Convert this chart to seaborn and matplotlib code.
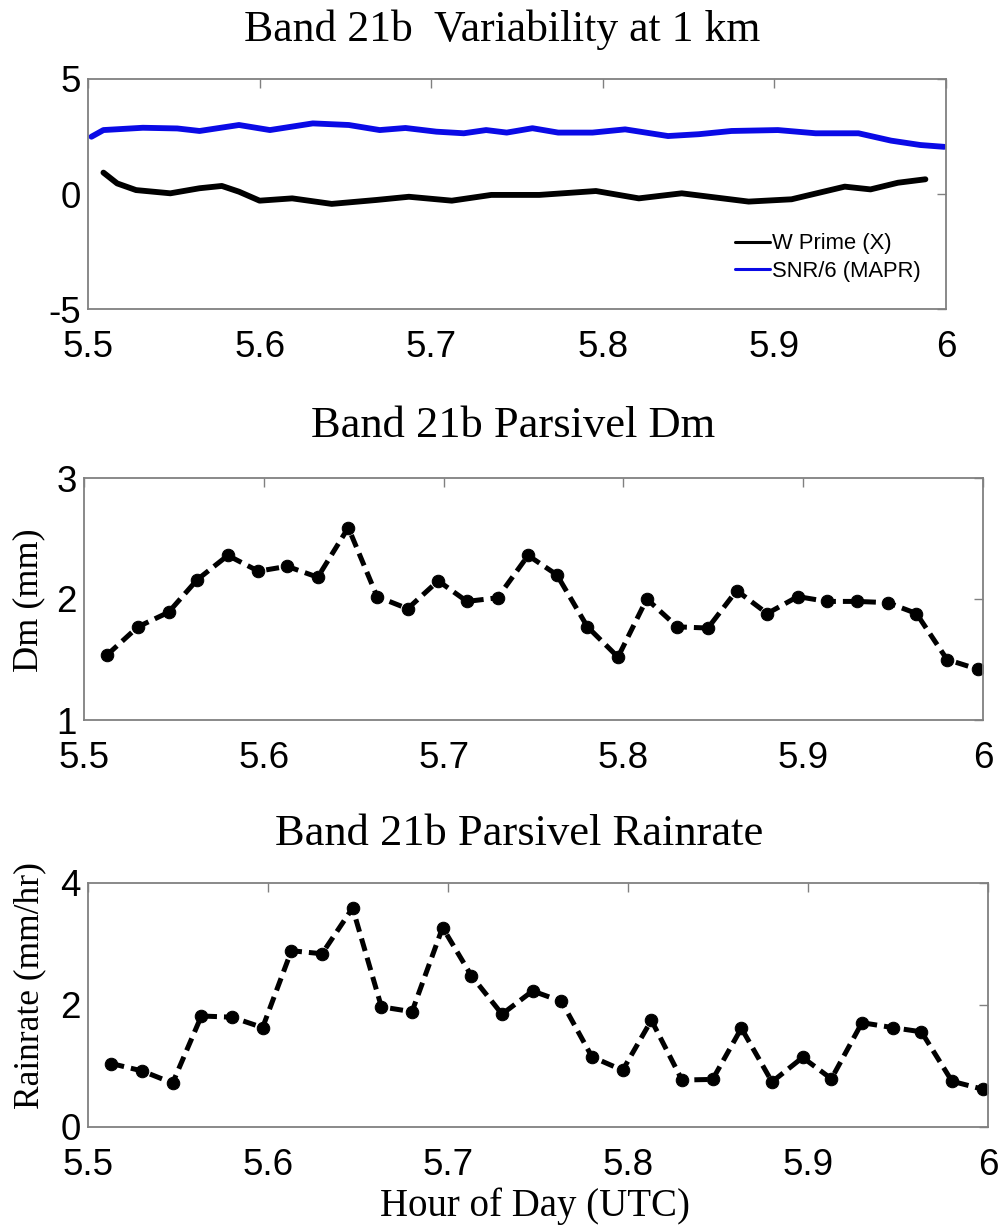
import numpy as np
import pandas as pd
import matplotlib
matplotlib.use("Agg")
import matplotlib.pyplot as plt
import seaborn as sns

# ---------------- data ----------------
# Panel 1: Variability at 1 km
w_hours = [5.509, 5.517, 5.528, 5.548, 5.565, 5.578, 5.588, 5.600, 5.619, 5.642,
           5.668, 5.687, 5.712, 5.735, 5.763, 5.796, 5.821, 5.846, 5.885, 5.910,
           5.941, 5.956, 5.972, 5.988]
w_prime = [0.93, 0.46, 0.17, 0.03, 0.25, 0.35, 0.10, -0.29, -0.19, -0.43,
           -0.26, -0.12, -0.29, -0.04, -0.04, 0.13, -0.19, 0.03, -0.33, -0.23,
           0.32, 0.20, 0.49, 0.64]
snr_hours = [5.502, 5.509, 5.532, 5.552, 5.565, 5.588, 5.606, 5.631, 5.652, 5.670,
             5.685, 5.703, 5.719, 5.732, 5.744, 5.759, 5.774, 5.794, 5.813, 5.838,
             5.856, 5.875, 5.902, 5.924, 5.949, 5.968, 5.985, 5.999]
snr6 = [2.49, 2.78, 2.88, 2.85, 2.74, 3.00, 2.78, 3.07, 3.00, 2.78,
        2.87, 2.71, 2.64, 2.78, 2.67, 2.86, 2.67, 2.67, 2.81, 2.52,
        2.60, 2.74, 2.78, 2.64, 2.64, 2.32, 2.13, 2.05]
series_names = ["W Prime (X)", "SNR/6 (MAPR)"]
series_colors = ["black", "#0a0ae6"]

# Panels 2 and 3: Parsivel (1-minute samples)
pars_hours = [5.513, 5.530, 5.547, 5.563, 5.580, 5.597, 5.613, 5.630, 5.647, 5.663,
              5.680, 5.697, 5.713, 5.730, 5.747, 5.763, 5.780, 5.797, 5.813, 5.830,
              5.847, 5.863, 5.880, 5.897, 5.913, 5.930, 5.947, 5.963, 5.980, 5.997]
dm_mm = [1.54, 1.77, 1.89, 2.16, 2.36, 2.23, 2.27, 2.18, 2.59, 2.02,
         1.92, 2.15, 1.98, 2.01, 2.36, 2.20, 1.77, 1.52, 2.00, 1.77,
         1.76, 2.07, 1.88, 2.02, 1.98, 1.98, 1.97, 1.88, 1.50, 1.42]
rain_mmhr = [1.04, 0.92, 0.72, 1.82, 1.80, 1.63, 2.89, 2.84, 3.59, 1.97,
             1.89, 3.27, 2.48, 1.85, 2.23, 2.06, 1.15, 0.93, 1.75, 0.77,
             0.78, 1.62, 0.74, 1.14, 0.79, 1.71, 1.63, 1.56, 0.75, 0.62]

x_ticks = [5.5, 5.6, 5.7, 5.8, 5.9, 6.0]
x_ticklabels = ["5.5", "5.6", "5.7", "5.8", "5.9", "6"]
titles = ["Band 21b  Variability at 1 km", "Band 21b Parsivel Dm",
          "Band 21b Parsivel Rainrate"]
ylabels = ["", "Dm (mm)", "Rainrate (mm/hr)"]
xlabel = "Hour of Day (UTC)"

# ---------------- style ----------------
sns.set_style("white")
plt.rcParams["font.family"] = ["Liberation Sans", "DejaVu Sans"]
plt.rcParams["axes.unicode_minus"] = False
plt.rcParams["text.color"] = "black"
plt.rcParams["xtick.color"] = "black"
plt.rcParams["ytick.color"] = "black"
SERIF = ["Liberation Serif", "DejaVu Serif"]

W, H = 999, 1226
fig = plt.figure(figsize=(W / 100, H / 100), dpi=100)


def add_ax(l, r, t, b):
    return fig.add_axes([l / W, 1 - b / H, (r - l) / W, (b - t) / H])


ax1 = add_ax(88, 946, 79, 309)
ax2 = add_ax(84, 983, 478, 720)
ax3 = add_ax(88, 988, 883, 1127)

# panel 1
df1 = pd.concat([
    pd.DataFrame({"hour": w_hours, "value": w_prime, "series": series_names[0]}),
    pd.DataFrame({"hour": snr_hours, "value": snr6, "series": series_names[1]}),
])
sns.lineplot(data=df1, x="hour", y="value", hue="series", hue_order=series_names,
             palette=dict(zip(series_names, series_colors)), estimator=None,
             linewidth=4.2, ax=ax1)
ax1.set_ylim(-5, 5)
ax1.set_yticks([-5, 0, 5])
ax1.set_yticklabels(["-5", "0", "5"])
leg = ax1.legend(loc="center left", bbox_to_anchor=(0.754, 0.224), frameon=False,
                 fontsize=15.8, handlelength=1.6, handletextpad=0.1,
                 borderpad=0, borderaxespad=0, labelspacing=0.3)
for h in leg.get_lines():
    h.set_linewidth(2.2)
for t in leg.get_texts():
    t.set_color("black")

# panel 2
df2 = pd.DataFrame({"hour": pars_hours, "dm": dm_mm})
sns.lineplot(data=df2, x="hour", y="dm", color="black", linestyle="--",
             marker="o", markersize=9, markeredgecolor="black",
             linewidth=3.6, dashes=False, ax=ax2)
ax2.set_ylim(1, 3)
ax2.set_yticks([1, 2, 3])
ax2.set_yticklabels(["1", "2", "3"])

# panel 3
df3 = pd.DataFrame({"hour": pars_hours, "rain": rain_mmhr})
sns.lineplot(data=df3, x="hour", y="rain", color="black", linestyle="--",
             marker="o", markersize=9, markeredgecolor="black",
             linewidth=3.6, dashes=False, ax=ax3)
ax3.set_ylim(0, 4)
ax3.set_yticks([0, 2, 4])
ax3.set_yticklabels(["0", "2", "4"])

for ax in (ax1, ax2, ax3):
    ax.set_xlim(5.5, 6.0)
    ax.set_xticks(x_ticks)
    ax.set_xticklabels(x_ticklabels)
    ax.set_xlabel("")
    ax.set_ylabel("")
    ax.tick_params(direction="in", length=6.5, width=1.0, color="#808080",
                   top=True, right=True, labelsize=26.5, labelcolor="black")
    ax.tick_params(axis="x", pad=15)
    ax.tick_params(axis="y", pad=5)
    for s in ax.spines.values():
        s.set_color("#808080")
        s.set_linewidth(1.3)
    ax.set_facecolor("white")

for ax in (ax2, ax3):
    for line in ax.get_lines():
        line.set_dashes([2.6, 1.4])

# titles and labels
fig.text(502 / W, 1 - 41 / H, titles[0], ha="center", va="baseline",
         fontsize=31.5, family=SERIF, color="black")
fig.text(513 / W, 1 - 437 / H, titles[1], ha="center", va="baseline",
         fontsize=32, family=SERIF, color="black")
fig.text(519 / W, 1 - 845 / H, titles[2], ha="center", va="baseline",
         fontsize=32, family=SERIF, color="black")
fig.text(29 / W, 1 - 600 / H, ylabels[1], ha="center", va="center",
         rotation=90, fontsize=26, family=SERIF, color="black")
fig.text(30 / W, 1 - 986 / H, ylabels[2], ha="center", va="center",
         rotation=90, fontsize=25.5, family=SERIF, color="black")
fig.text(535 / W, 1 - 1206 / H, xlabel, ha="center", va="center",
         fontsize=28, family=SERIF, color="black")

fig.savefig("out.png", dpi=100, facecolor="white")
